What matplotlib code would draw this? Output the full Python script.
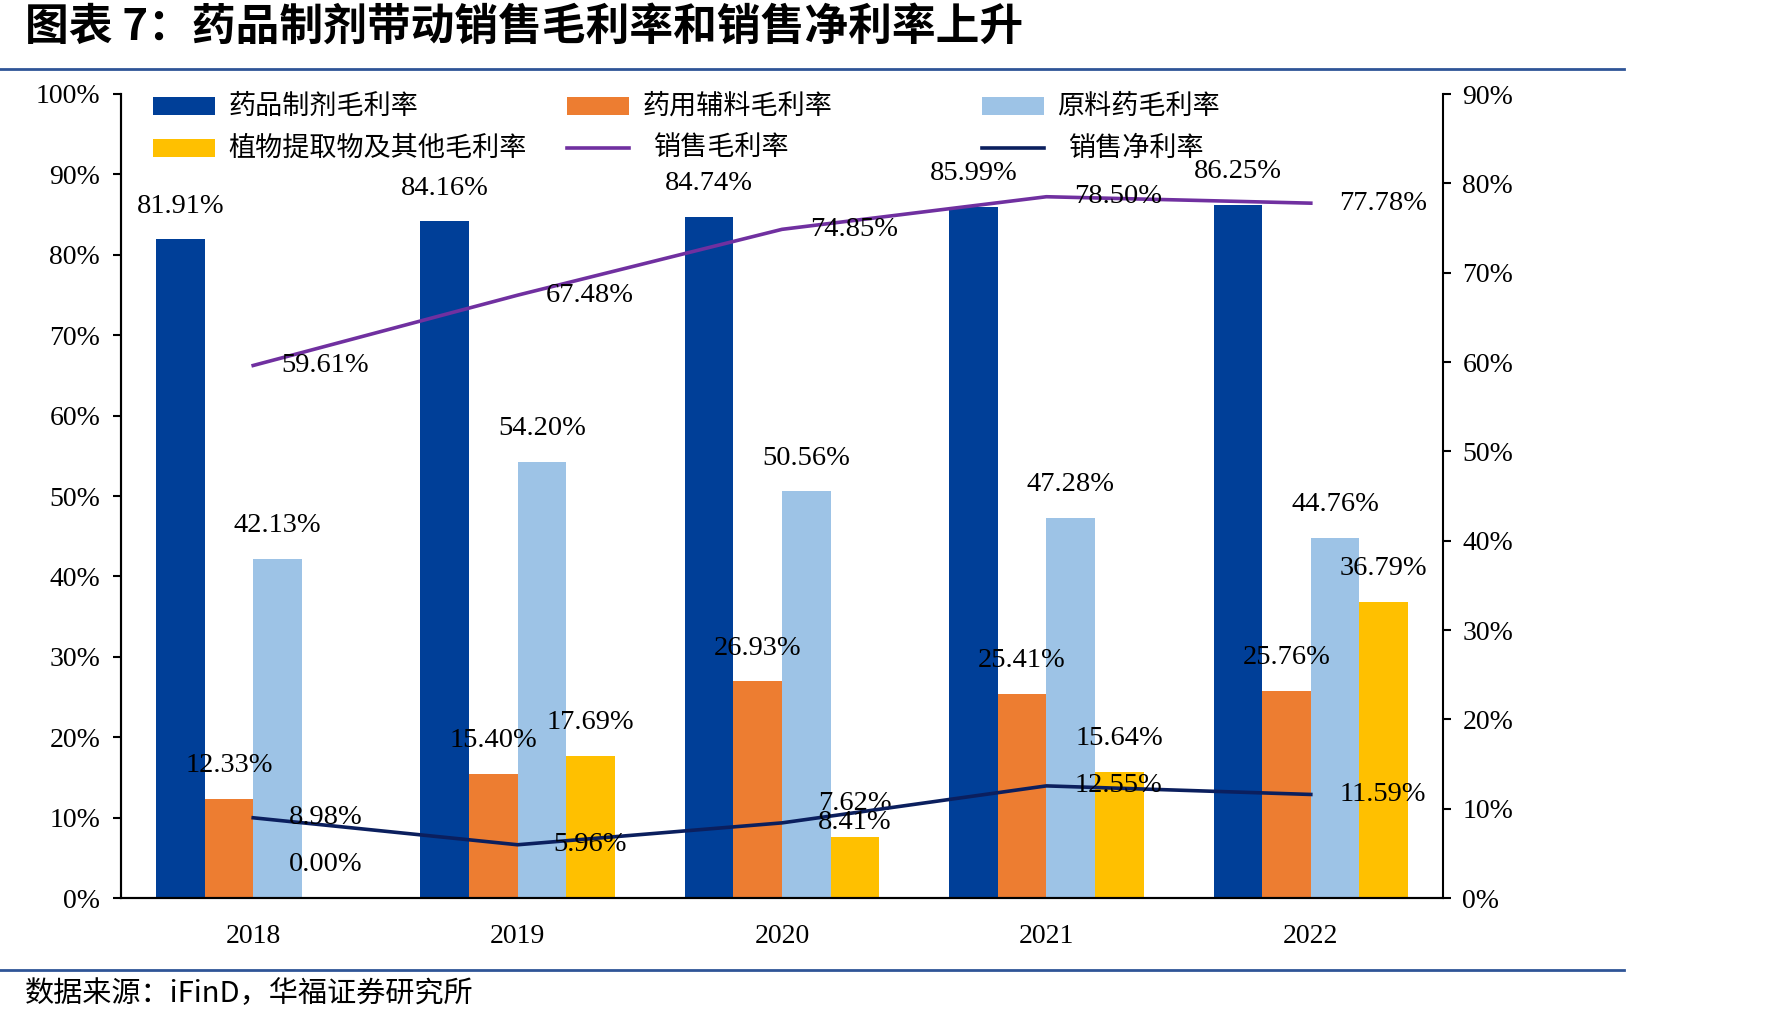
import matplotlib
matplotlib.use('Agg')
import matplotlib.pyplot as plt
import numpy as np
from matplotlib.patches import Rectangle
from matplotlib.lines import Line2D

# ---------------- data ----------------
years = ['2018', '2019', '2020', '2021', '2022']
prep_gm = [81.91, 84.16, 84.74, 85.99, 86.25]      # 药品制剂毛利率
excip_gm = [12.33, 15.40, 26.93, 25.41, 25.76]     # 药用辅料毛利率
api_gm = [42.13, 54.20, 50.56, 47.28, 44.76]       # 原料药毛利率
plant_gm = [0.00, 17.69, 7.62, 15.64, 36.79]       # 植物提取物及其他毛利率
sales_gm = [59.61, 67.48, 74.85, 78.50, 77.78]     # 销售毛利率 (right axis)
sales_nm = [8.98, 5.96, 8.41, 12.55, 11.59]        # 销售净利率 (right axis)

bar_names = ['药品制剂毛利率', '药用辅料毛利率', '原料药毛利率', '植物提取物及其他毛利率']
line_names = ['销售毛利率', '销售净利率']
left_ticks = [0, 10, 20, 30, 40, 50, 60, 70, 80, 90, 100]
right_ticks = [0, 10, 20, 30, 40, 50, 60, 70, 80, 90]

bar_colors = ['#003F98', '#ED7D31', '#9DC3E6', '#FFC000']
line_colors = ['#7030A0', '#0B1F5E']

CJK = ['Noto Sans CJK SC', 'DejaVu Sans']
SERIF = ['Liberation Serif', 'DejaVu Serif']

W, H = 1772, 1024
def fx(px):
    return px / W
def fy(py):
    return 1 - py / H

fig = plt.figure(figsize=(W / 100, H / 100), dpi=100)
fig.patch.set_facecolor('white')

ax = fig.add_axes([fx(121), fy(898), (1443 - 121) / W, (898 - 94) / H])
ax2 = ax.twinx()

x = np.arange(len(years))
bw = 0.184
offsets = (np.arange(4) - 1.5) * bw
series = [prep_gm, excip_gm, api_gm, plant_gm]

for s, off, c in zip(series, offsets, bar_colors):
    ax.bar(x + off, s, bw, color=c, zorder=2)
    for xi, v in zip(x, s):
        ax.annotate(f'{v:.2f}%', (xi + off, v), xytext=(0, 24), textcoords='offset points',
                    ha='center', va='center', fontsize=20.5, family=SERIF, zorder=5)

ax.set_xlim(-0.5, 4.5)
ax.set_ylim(0, 100)
ax.set_yticks(left_ticks)
ax.set_yticklabels([f'{t}%' for t in left_ticks], fontsize=20, family=SERIF)
ax.set_xticks(x)
ax.set_xticklabels(years, fontsize=20, family=SERIF)
ax.tick_params(axis='x', length=0, pad=19)
ax.tick_params(axis='y', direction='out', length=6, width=1.5, pad=9)

for s, c in zip([sales_gm, sales_nm], line_colors):
    ax2.plot(x, s, color=c, lw=2.6, zorder=3)
    for xi, v in zip(x, s):
        ax2.annotate(f'{v:.2f}%', (xi, v), xytext=(52, 0), textcoords='offset points',
                     ha='center', va='center', fontsize=20.5, family=SERIF, zorder=5)

ax2.set_ylim(0, 90)
ax2.set_yticks(right_ticks)
ax2.set_yticklabels([f'{t}%' for t in right_ticks], fontsize=20, family=SERIF)
ax2.tick_params(axis='y', direction='out', length=6, width=1.5, pad=8)

for a in (ax, ax2):
    a.spines['top'].set_visible(False)
    for sp in ('left', 'right', 'bottom'):
        a.spines[sp].set_linewidth(1.5)
        a.spines[sp].set_color('black')
ax.spines['right'].set_visible(False)

# ---------------- manual legend ----------------
col_px = [153, 567, 982]
row_py = [106, 148]
entries = [
    ('bar', bar_colors[0], bar_names[0], 0, 0),
    ('bar', bar_colors[1], bar_names[1], 0, 1),
    ('bar', bar_colors[2], bar_names[2], 0, 2),
    ('bar', bar_colors[3], bar_names[3], 1, 0),
    ('line', line_colors[0], line_names[0], 1, 1),
    ('line', line_colors[1], line_names[1], 1, 2),
]
for kind, c, name, r, cidx in entries:
    x0 = col_px[cidx]
    yc = row_py[r]
    if kind == 'bar':
        fig.add_artist(Rectangle((fx(x0), fy(yc + 9)), 62 / W, 18 / H,
                                 transform=fig.transFigure, facecolor=c, edgecolor='none'))
        tx = x0 + 75
    else:
        fig.add_artist(Line2D([fx(x0), fx(x0 + 62)], [fy(yc), fy(yc)],
                              transform=fig.transFigure, color=c, lw=2.6))
        tx = x0 + 87
    fig.text(fx(tx), fy(yc), name, fontsize=19.5, family=CJK, va='center', ha='left')

# ---------------- title, rules, source ----------------
fig.text(fx(25), fy(27), '图表 7：药品制剂带动销售毛利率和销售净利率上升',
         fontsize=31.5, fontweight='bold', family=CJK, va='center', ha='left')
fig.add_artist(Line2D([0, fx(1624)], [fy(69), fy(69)], transform=fig.transFigure,
                      color='#2F5597', lw=2))
fig.add_artist(Line2D([0, fx(1624)], [fy(970), fy(970)], transform=fig.transFigure,
                      color='#2F5597', lw=2))
fig.text(fx(25), fy(994), '数据来源：iFinD，华福证券研究所', fontsize=21, family=CJK,
         va='center', ha='left')

fig.savefig('out.png', dpi=100, facecolor='white')
